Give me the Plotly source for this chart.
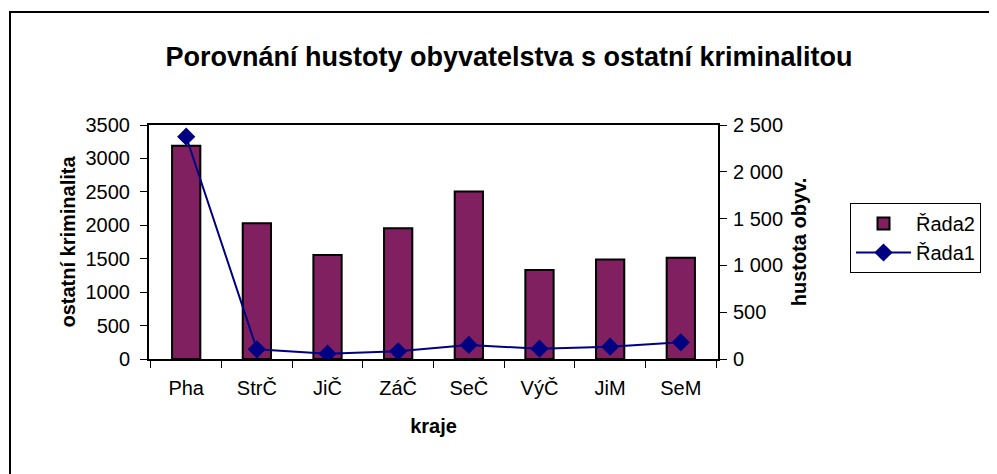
import plotly.graph_objects as go

categories = ["Pha", "StrČ", "JiČ", "ZáČ", "SeČ", "VýČ", "JiM", "SeM"]
rada2 = [3190, 2030, 1555, 1955, 2505, 1330, 1490, 1515]   # ostatní kriminalita (bars, left axis)
rada1 = [2375, 103, 57, 82, 150, 110, 132, 178]            # hustota obyv. (line, right axis)

FONT = "Liberation Sans, Arial, sans-serif"

# page has an 8px body margin -> figure drawn at (8,8)
W, H = 989, 466
PL, PR, PT, PB = 141, 710, 117, 351   # plot area in figure pixels
PW, PH = PR - PL, PB - PT

def px(x):
    return (x - PL) / PW

def py(y):
    return (PB - y) / PH

fig = go.Figure()
fig.add_trace(go.Bar(
    x=categories, y=rada2, name="Řada2",
    marker=dict(color="#802060", line=dict(color="black", width=2)),
    yaxis="y",
))
fig.add_trace(go.Scatter(
    x=categories, y=rada1, name="Řada1", mode="lines+markers",
    line=dict(color="#000080", width=2),
    marker=dict(symbol="diamond", size=14, color="#000080"),
    yaxis="y2",
))

fig.update_layout(
    width=W, height=H,
    margin=dict(l=PL, r=W - PR, t=PT, b=H - PB),
    paper_bgcolor="white", plot_bgcolor="white",
    font=dict(family=FONT, size=20, color="black"),
    bargap=0.6,
    separators=", ",
    title=dict(text="<b>Porovnání hustoty obyvatelstva s ostatní kriminalitou</b>",
               x=(509 - 8) / W, xref="container", xanchor="center",
               y=1 - (57 - 8) / H, yref="container", yanchor="middle",
               font=dict(size=27, family=FONT, color="black")),
    xaxis=dict(
        title=dict(text="<b>kraje</b>", font=dict(size=20), standoff=21),
        showline=True, linecolor="black", linewidth=2, mirror=True,
        ticks="outside", tickson="boundaries", ticklen=7, tickcolor="black", tickwidth=1,
        ticklabelstandoff=10,
        showgrid=False, tickfont=dict(size=20),
    ),
    yaxis=dict(
        title=dict(text="<b>ostatní kriminalita</b>", font=dict(size=20), standoff=5),
        range=[0, 3500], dtick=500, tick0=0,
        showline=True, linecolor="black", linewidth=2,
        ticks="outside", ticklen=7, tickcolor="black", tickwidth=1,
        ticklabelstandoff=6,
        showgrid=False, zeroline=False, tickfont=dict(size=20),
    ),
    yaxis2=dict(
        title=dict(text="<b>hustota obyv.</b>", font=dict(size=20), standoff=10),
        range=[0, 2500], dtick=500, tick0=0, overlaying="y", side="right",
        separatethousands=True,
        showline=True, linecolor="black", linewidth=2,
        ticks="outside", ticklen=7, tickcolor="black", tickwidth=1,
        ticklabelstandoff=2,
        showgrid=False, zeroline=False, tickfont=dict(size=20),
    ),
    legend=dict(
        x=px(850 - 8), y=py(203 - 8), xanchor="left", yanchor="top",
        bordercolor="black", borderwidth=1, bgcolor="white",
        font=dict(size=20), traceorder="normal", itemwidth=55,
        entrywidth=75, entrywidthmode="pixels",
    ),
    shapes=[dict(type="rect", xref="paper", yref="paper",
                 x0=px(10 - 8), x1=px(W + 20),
                 y0=py(H + 20), y1=py(12 - 8),
                 line=dict(color="black", width=2), fillcolor="rgba(0,0,0,0)",
                 layer="below")],
)

fig.write_html("out.html")
